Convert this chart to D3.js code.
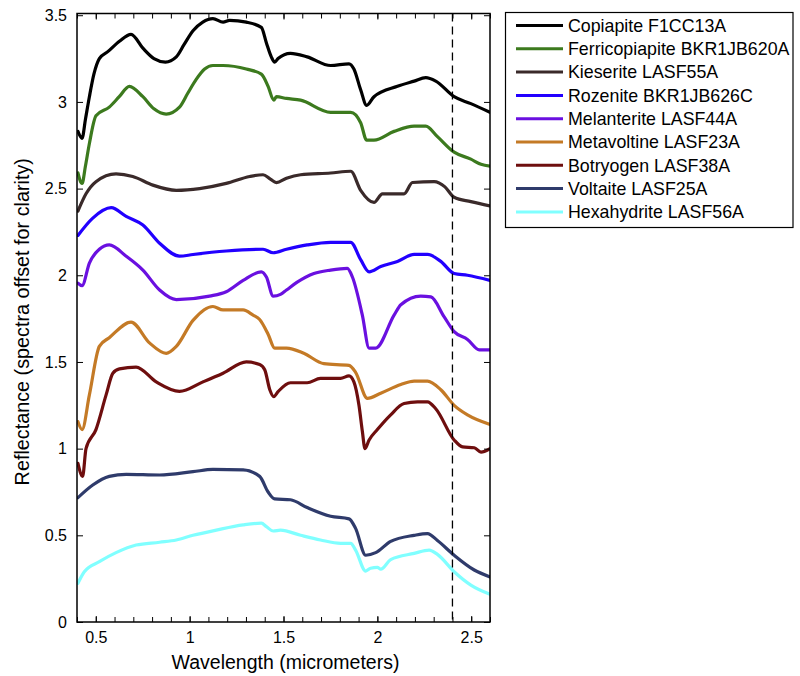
<!DOCTYPE html>
<html><head><meta charset="utf-8">
<script src="https://cdn.jsdelivr.net/npm/d3@7"></script>
<style>body{margin:0;background:#fff;} text{font-family:"Liberation Sans",Arial,sans-serif;fill:#000;}</style>
</head><body><svg id="c" width="800" height="676"></svg>
<script>
const seriesNames = ["Copiapite F1CC13A","Ferricopiapite BKR1JB620A","Kieserite LASF55A","Rozenite BKR1JB626C","Melanterite LASF44A","Metavoltine LASF23A","Botryogen LASF38A","Voltaite LASF25A","Hexahydrite LASF56A"];
const seriesColors = ["#000000","#3c7a1e","#3a2a2a","#2200ff","#6a10e0","#c47a26","#6e0e0e","#2f3b6b","#80ffff"];

const copiapite = [[0.405,2.83],[0.427,2.79],[0.445,2.90],[0.466,3.03],[0.49,3.16],[0.519,3.25],[0.564,3.29],[0.626,3.35],[0.688,3.39],[0.751,3.31],[0.81,3.25],[0.871,3.23],[0.929,3.26],[0.97,3.33],[1.018,3.41],[1.07,3.46],[1.124,3.48],[1.178,3.46],[1.213,3.47],[1.302,3.46],[1.382,3.43],[1.409,3.34],[1.435,3.26],[1.453,3.23],[1.471,3.25],[1.537,3.28],[1.626,3.26],[1.751,3.21],[1.849,3.22],[1.875,3.19],[1.911,3.07],[1.943,2.98],[1.982,3.03],[2.107,3.09],[2.196,3.12],[2.258,3.14],[2.311,3.12],[2.409,3.03],[2.498,2.99],[2.6,2.94]];
const ferricopiapite = [[0.405,2.59],[0.427,2.53],[0.445,2.63],[0.466,2.76],[0.501,2.92],[0.572,2.97],[0.625,3.03],[0.679,3.09],[0.751,3.03],[0.81,2.96],[0.875,2.93],[0.946,2.97],[0.99,3.05],[1.035,3.13],[1.08,3.19],[1.124,3.21],[1.178,3.21],[1.302,3.19],[1.382,3.16],[1.418,3.09],[1.448,3.01],[1.462,3.03],[1.516,3.02],[1.591,3.01],[1.751,2.94],[1.858,2.94],[1.911,2.88],[1.943,2.78],[1.982,2.78],[2.089,2.83],[2.196,2.86],[2.258,2.86],[2.32,2.80],[2.409,2.71],[2.498,2.67],[2.552,2.64],[2.6,2.63]];
const kieserite = [[0.405,2.37],[0.448,2.47],[0.501,2.54],[0.608,2.585],[0.697,2.57],[0.804,2.52],[0.929,2.49],[1.053,2.50],[1.195,2.53],[1.32,2.57],[1.391,2.58],[1.43,2.555],[1.462,2.535],[1.516,2.56],[1.591,2.58],[1.751,2.59],[1.858,2.60],[1.911,2.49],[1.982,2.42],[2.027,2.47],[2.142,2.47],[2.187,2.535],[2.302,2.54],[2.36,2.51],[2.409,2.45],[2.498,2.425],[2.6,2.40]];
const rozenite = [[0.405,2.23],[0.484,2.33],[0.582,2.39],[0.662,2.34],[0.751,2.29],[0.84,2.185],[0.946,2.11],[1.018,2.12],[1.195,2.14],[1.391,2.15],[1.445,2.13],[1.516,2.15],[1.626,2.175],[1.751,2.19],[1.858,2.19],[1.911,2.09],[1.956,2.02],[2.018,2.05],[2.107,2.08],[2.196,2.12],[2.267,2.12],[2.338,2.08],[2.409,2.01],[2.48,2.00],[2.6,1.97]];
const melanterite = [[0.405,1.955],[0.427,1.94],[0.466,2.07],[0.519,2.15],[0.572,2.175],[0.662,2.11],[0.751,2.03],[0.84,1.915],[0.929,1.86],[1.106,1.88],[1.195,1.905],[1.285,1.97],[1.382,2.02],[1.409,1.99],[1.445,1.88],[1.484,1.89],[1.516,1.915],[1.573,1.96],[1.662,2.01],[1.751,2.03],[1.84,2.04],[1.867,1.99],[1.92,1.77],[1.956,1.58],[1.991,1.58],[2.089,1.77],[2.125,1.83],[2.231,1.88],[2.285,1.875],[2.356,1.76],[2.409,1.675],[2.48,1.63],[2.543,1.57],[2.6,1.57]];
const metavoltine = [[0.405,1.155],[0.427,1.11],[0.466,1.31],[0.519,1.59],[0.572,1.64],[0.688,1.73],[0.786,1.61],[0.875,1.55],[0.929,1.59],[1.018,1.74],[1.124,1.82],[1.178,1.80],[1.285,1.80],[1.338,1.77],[1.373,1.745],[1.418,1.66],[1.453,1.58],[1.516,1.58],[1.608,1.55],[1.715,1.49],[1.849,1.48],[1.884,1.44],[1.947,1.29],[2.018,1.32],[2.125,1.37],[2.196,1.39],[2.267,1.39],[2.338,1.34],[2.409,1.25],[2.48,1.195],[2.6,1.14]];
const botryogen = [[0.405,0.915],[0.43,0.84],[0.448,1.00],[0.501,1.11],[0.555,1.31],[0.591,1.435],[0.626,1.46],[0.715,1.47],[0.822,1.385],[0.946,1.33],[1.071,1.385],[1.178,1.435],[1.302,1.50],[1.373,1.485],[1.40,1.455],[1.427,1.34],[1.448,1.30],[1.472,1.33],[1.537,1.38],[1.626,1.38],[1.697,1.405],[1.804,1.405],[1.849,1.42],[1.875,1.385],[1.902,1.25],[1.92,1.10],[1.934,1.00],[1.956,1.05],[2.0,1.11],[2.071,1.195],[2.142,1.26],[2.214,1.27],[2.267,1.27],[2.311,1.23],[2.409,1.05],[2.454,1.01],[2.516,1.005],[2.552,0.98],[2.6,1.00]];
const voltaite = [[0.405,0.717],[0.484,0.79],[0.572,0.84],[0.662,0.852],[0.84,0.848],[1.018,0.867],[1.124,0.88],[1.285,0.877],[1.373,0.84],[1.418,0.75],[1.453,0.71],[1.537,0.705],[1.626,0.66],[1.751,0.61],[1.849,0.595],[1.884,0.54],[1.938,0.385],[1.991,0.40],[2.071,0.465],[2.196,0.50],[2.267,0.51],[2.32,0.47],[2.409,0.385],[2.516,0.30],[2.6,0.26]];
const hexahydrite = [[0.405,0.223],[0.439,0.29],[0.519,0.348],[0.608,0.40],[0.715,0.444],[0.84,0.46],[0.929,0.473],[1.018,0.50],[1.142,0.53],[1.285,0.56],[1.382,0.57],[1.409,0.55],[1.445,0.525],[1.484,0.53],[1.591,0.50],[1.697,0.473],[1.804,0.454],[1.858,0.454],[1.884,0.415],[1.938,0.294],[1.964,0.31],[2.0,0.315],[2.018,0.305],[2.071,0.36],[2.196,0.396],[2.276,0.415],[2.32,0.39],[2.409,0.29],[2.498,0.213],[2.6,0.16]];

const seriesData = [copiapite,ferricopiapite,kieserite,rozenite,melanterite,metavoltine,botryogen,voltaite,hexahydrite];
const xTicks = [0.5,1,1.5,2,2.5];
const xMinorTicks = d3.range(4,27).map(d=>d/10);
const yTicks = [0,0.5,1,1.5,2,2.5,3,3.5];
const cutoffWavelength = 2.4;
const xLabel = "Wavelength (micrometers)";
const yLabel = "Reflectance (spectra offset for clarity)";

const L=77, R=490, T=13.5, B=622;
const svg = d3.select("#c");
const x = d3.scaleLinear().domain([0.4,2.6]).range([L,R]);
const y = d3.scaleLinear().domain([0,3.51]).range([B,T]);

svg.append("defs").append("clipPath").attr("id","clip").append("rect")
  .attr("x",L).attr("y",T).attr("width",R-L).attr("height",B-T);

const line = d3.line().x(d=>x(d[0])).y(d=>y(d[1])).curve(d3.curveMonotoneX);
const g = svg.append("g").attr("clip-path","url(#clip)");
seriesData.forEach((s,i)=>{
  g.append("path").datum(s).attr("d",line).attr("fill","none")
   .attr("stroke",seriesColors[i]).attr("stroke-width",3.2).attr("stroke-linejoin","round").attr("stroke-linecap","round");
});

// dashed cutoff line
svg.append("line").attr("x1",x(cutoffWavelength)).attr("x2",x(cutoffWavelength))
  .attr("y1",T).attr("y2",B).attr("stroke","#000").attr("stroke-width",1.3).attr("stroke-dasharray","8,5");

// axes
function styleAxis(sel){ sel.select(".domain").remove(); sel.selectAll("line").attr("stroke","#000").attr("stroke-width",1); }
const fmt = d3.format("~g");
svg.append("g").attr("transform",`translate(0,${B})`)
  .call(d3.axisBottom(x).tickValues(xMinorTicks).tickSizeInner(-5).tickSizeOuter(0).tickFormat(""))
  .call(styleAxis);
svg.append("g").attr("transform",`translate(0,${T})`)
  .call(d3.axisTop(x).tickValues(xMinorTicks).tickSizeInner(-5).tickSizeOuter(0).tickFormat(""))
  .call(styleAxis);
const xb = svg.append("g").attr("transform",`translate(0,${B})`)
  .call(d3.axisBottom(x).tickValues(xTicks).tickSizeInner(-6).tickSizeOuter(0).tickPadding(10).tickFormat(fmt))
  .call(styleAxis);
xb.selectAll("text").attr("font-size",16).attr("font-family","Liberation Sans, Arial, sans-serif");
svg.append("g").attr("transform",`translate(0,${T})`)
  .call(d3.axisTop(x).tickValues(xTicks).tickSizeInner(-6).tickSizeOuter(0).tickFormat(""))
  .call(styleAxis);
const yl = svg.append("g").attr("transform",`translate(${L},0)`)
  .call(d3.axisLeft(y).tickValues(yTicks).tickSizeInner(-6).tickSizeOuter(0).tickPadding(10).tickFormat(fmt))
  .call(styleAxis);
yl.selectAll("text").attr("font-size",16).attr("font-family","Liberation Sans, Arial, sans-serif");
svg.append("g").attr("transform",`translate(${R},0)`)
  .call(d3.axisRight(y).tickValues(yTicks).tickSizeInner(-6).tickSizeOuter(0).tickFormat(""))
  .call(styleAxis);

svg.append("rect").attr("x",L).attr("y",T).attr("width",R-L).attr("height",B-T)
  .attr("fill","none").attr("stroke","#000").attr("stroke-width",1.5);

svg.append("text").attr("x",(L+R)/2+2).attr("y",669).attr("text-anchor","middle")
  .attr("font-size",19.5).text(xLabel);
svg.append("text").attr("transform",`translate(29,${(T+B)/2+4}) rotate(-90)`).attr("text-anchor","middle")
  .attr("font-size",19.8).text(yLabel);

// legend
const lg = svg.append("g");
lg.append("rect").attr("x",505.5).attr("y",12.5).attr("width",287.5).attr("height",215)
  .attr("fill","#fff").attr("stroke","#000").attr("stroke-width",1.2);
seriesNames.forEach((n,i)=>{
  const yy = 25.5 + i*23.3;
  lg.append("line").attr("x1",516).attr("x2",563).attr("y1",yy).attr("y2",yy)
    .attr("stroke",seriesColors[i]).attr("stroke-width",3);
  lg.append("text").attr("x",568).attr("y",yy).attr("dy","0.35em").attr("font-size",17.8).text(n);
});
</script></body></html>
